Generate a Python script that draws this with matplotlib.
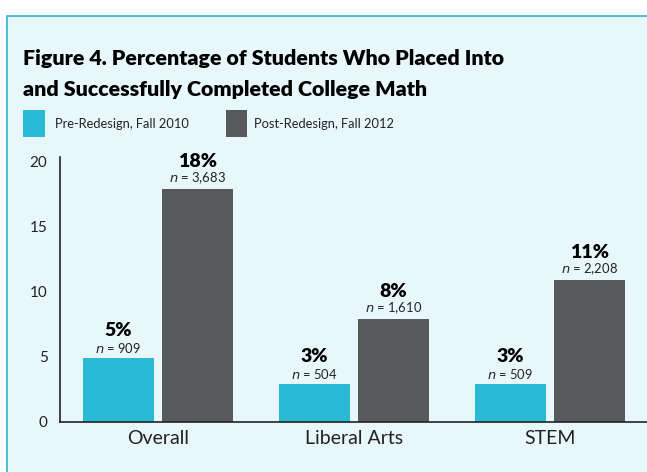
import matplotlib
matplotlib.use("Agg")
import matplotlib.pyplot as plt
from matplotlib.patches import Rectangle
import numpy as np

categories = ["Overall", "Liberal Arts", "STEM"]
pre_values = [4.9, 2.9, 2.9]
post_values = [17.9, 7.9, 10.9]
pre_labels = ["5%", "3%", "3%"]
post_labels = ["18%", "8%", "11%"]
pre_n = ["909", "504", "509"]
post_n = ["3,683", "1,610", "2,208"]
series_names = ["Pre-Redesign, Fall 2010", "Post-Redesign, Fall 2012"]
yticks = [0, 5, 10, 15, 20]

CYAN = "#29BAD6"
GRAY = "#58595B"
BG = "#E8F7FA"
BORDER = "#3BBBD5"
FONT = ["Lato", "DejaVu Sans"]

plt.rcParams["font.family"] = FONT

W, H = 647, 472
fig = plt.figure(figsize=(W / 100, H / 100), dpi=100)
fig.patch.set_facecolor("white")

def fx(px):
    return px / W

def fy(py):
    return 1 - py / H

# panel background
fig.add_artist(Rectangle((fx(7), -0.01), 1.02, fy(15.5) + 0.01,
                         transform=fig.transFigure, facecolor=BG,
                         edgecolor=BORDER, linewidth=1.3, zorder=0))

# title
fig.text(fx(23), fy(65), "Figure 4. Percentage of Students Who Placed Into",
         fontsize=15.4, fontweight="heavy", color="black", va="baseline", ha="left")
fig.text(fx(23), fy(96), "and Successfully Completed College Math",
         fontsize=15.4, fontweight="heavy", color="black", va="baseline", ha="left")

# legend
for (x0, col, name, tx) in [(23, CYAN, series_names[0], 55),
                            (225.5, GRAY, series_names[1], 254)]:
    fig.add_artist(Rectangle((fx(x0), fy(136.5)), fx(21.5), 26.5 / H,
                             transform=fig.transFigure, facecolor=col,
                             edgecolor="none"))
    fig.text(fx(tx), fy(124), name, fontsize=9.3, color="#222222",
             va="center", ha="left")

ax = fig.add_axes([fx(60), fy(421.5), 1 - fx(60), (421.5 - 157) / H])
ax.set_facecolor("none")

x = np.arange(len(categories))
bw = 0.362
off = 0.2015
b1 = ax.bar(x - off, pre_values, bw, color=CYAN, zorder=2)
b2 = ax.bar(x + off, post_values, bw, color=GRAY, zorder=2)

ax.set_xlim(-0.5, 2.495)
ax.set_ylim(0, 20.35)
ax.set_yticks(yticks)
ax.set_yticklabels([str(t) for t in yticks], fontsize=11, color="#222222")
ax.tick_params(axis="y", length=0, pad=9)
ax.set_xticks(x)
ax.set_xticklabels(categories, fontsize=14, color="#222222")
ax.tick_params(axis="x", length=0, pad=6)

for s in ["top", "right"]:
    ax.spines[s].set_visible(False)
for s in ["left", "bottom"]:
    ax.spines[s].set_color("#222222")
    ax.spines[s].set_linewidth(1.2)

for xs, vals, labs, ns in [(x - off, pre_values, pre_labels, pre_n),
                           (x + off, post_values, post_labels, post_n)]:
    for xi, v, lab, n in zip(xs, vals, labs, ns):
        ax.annotate("$\\it{n}$ = " + n, (xi, v), xytext=(0, 7.4),
                    textcoords="offset points", ha="center", va="center",
                    fontsize=9.4, color="#222222")
        ax.annotate(lab, (xi, v), xytext=(0, 20),
                    textcoords="offset points", ha="center", va="center",
                    fontsize=14, fontweight="heavy", color="black")

fig.savefig("out.png", dpi=100, facecolor=fig.get_facecolor())
